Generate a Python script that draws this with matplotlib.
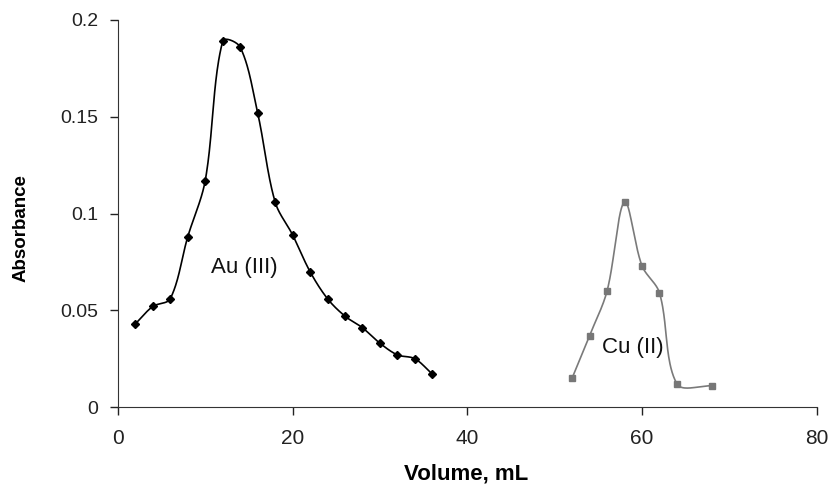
import numpy as np
import matplotlib
matplotlib.use("Agg")
import matplotlib.pyplot as plt

# Au (III) elution
au_vol = [2, 4, 6, 8, 10, 12, 14, 16, 18, 20, 22, 24, 26, 28, 30, 32, 34, 36]
au_abs = [0.043, 0.052, 0.056, 0.088, 0.117, 0.189, 0.186, 0.152, 0.106,
          0.089, 0.070, 0.056, 0.047, 0.041, 0.033, 0.027, 0.025, 0.017]

# Cu (II) elution
cu_vol = [52, 54, 56, 58, 60, 62, 64, 68]
cu_abs = [0.015, 0.037, 0.060, 0.106, 0.073, 0.059, 0.012, 0.011]

x_ticks = [0, 20, 40, 60, 80]
y_ticks = [0, 0.05, 0.1, 0.15, 0.2]
y_labels = ["0", "0.05", "0.1", "0.15", "0.2"]

# screen scale (px per data unit) so the smoothing behaves like excel's
SX = 699 / 80.0
SY = 387 / 0.2


def smooth(x, y, n=40):
    # bezier through the points, control arms scaled by chord length
    P = np.column_stack([np.asarray(x, float) * SX, np.asarray(y, float) * SY])
    P = np.vstack([P[0], P, P[-1]])
    out = []
    t = np.linspace(0, 1, n)[:, None]
    for i in range(1, len(P) - 2):
        p0, p1, p2, p3 = P[i - 1], P[i], P[i + 1], P[i + 2]
        d01 = np.hypot(*(p1 - p0)); d12 = np.hypot(*(p2 - p1)); d23 = np.hypot(*(p3 - p2))
        c1 = p1 + (p2 - p0) * d12 / (d01 + d12) / 3.0
        c2 = p2 - (p3 - p1) * d12 / (d12 + d23) / 3.0
        seg = ((1 - t) ** 3) * p1 + 3 * ((1 - t) ** 2) * t * c1 \
            + 3 * (1 - t) * t ** 2 * c2 + t ** 3 * p2
        out.append(seg if i == 1 else seg[1:])
    s = np.vstack(out)
    return s[:, 0] / SX, s[:, 1] / SY


plt.rcParams['font.family'] = ['Liberation Sans', 'DejaVu Sans']

fig = plt.figure(figsize=(8.3, 4.87), dpi=100)
ax = fig.add_axes([0.142, 0.164, 0.842, 0.795])

sx, sy = smooth(au_vol, au_abs)
ax.plot(sx, sy, color="black", lw=1.2)
ax.plot(au_vol, au_abs, ls="none", marker="D", ms=4.5, color="black")

sx, sy = smooth(cu_vol, cu_abs)
ax.plot(sx, sy, color="#7a7a7a", lw=1.2)
ax.plot(cu_vol, cu_abs, ls="none", marker="s", ms=5, color="#777777")

ax.text(14.5, 0.072, "Au (III)", fontsize=16, ha="center", va="center",
        color="#111111")
ax.text(59.0, 0.031, "Cu (II)", fontsize=16, ha="center", va="center",
        color="#111111")

ax.set_xlim(0, 80)
ax.set_ylim(0, 0.2)
ax.set_xticks(x_ticks)
ax.set_yticks(y_ticks)
ax.set_yticklabels(y_labels)
ax.tick_params(axis="x", labelsize=15, length=6, width=1, direction="out",
               pad=10, colors="#222222")
ax.tick_params(axis="y", labelsize=14, length=6, width=1, direction="out",
               pad=8, colors="#222222")
for s in ("left", "bottom"):
    ax.spines[s].set_color("#333333")
ax.spines["top"].set_visible(False)
ax.spines["right"].set_visible(False)
ax.set_xlabel("Volume, mL", fontsize=16, fontweight="bold")
ax.set_ylabel("Absorbance", fontsize=13.5, fontweight="bold")
ax.xaxis.set_label_coords(0.499, -0.145)
ax.yaxis.set_label_coords(-0.139, 0.463)
ax.yaxis.label.set_va("center")

fig.savefig("out.png", dpi=100)
